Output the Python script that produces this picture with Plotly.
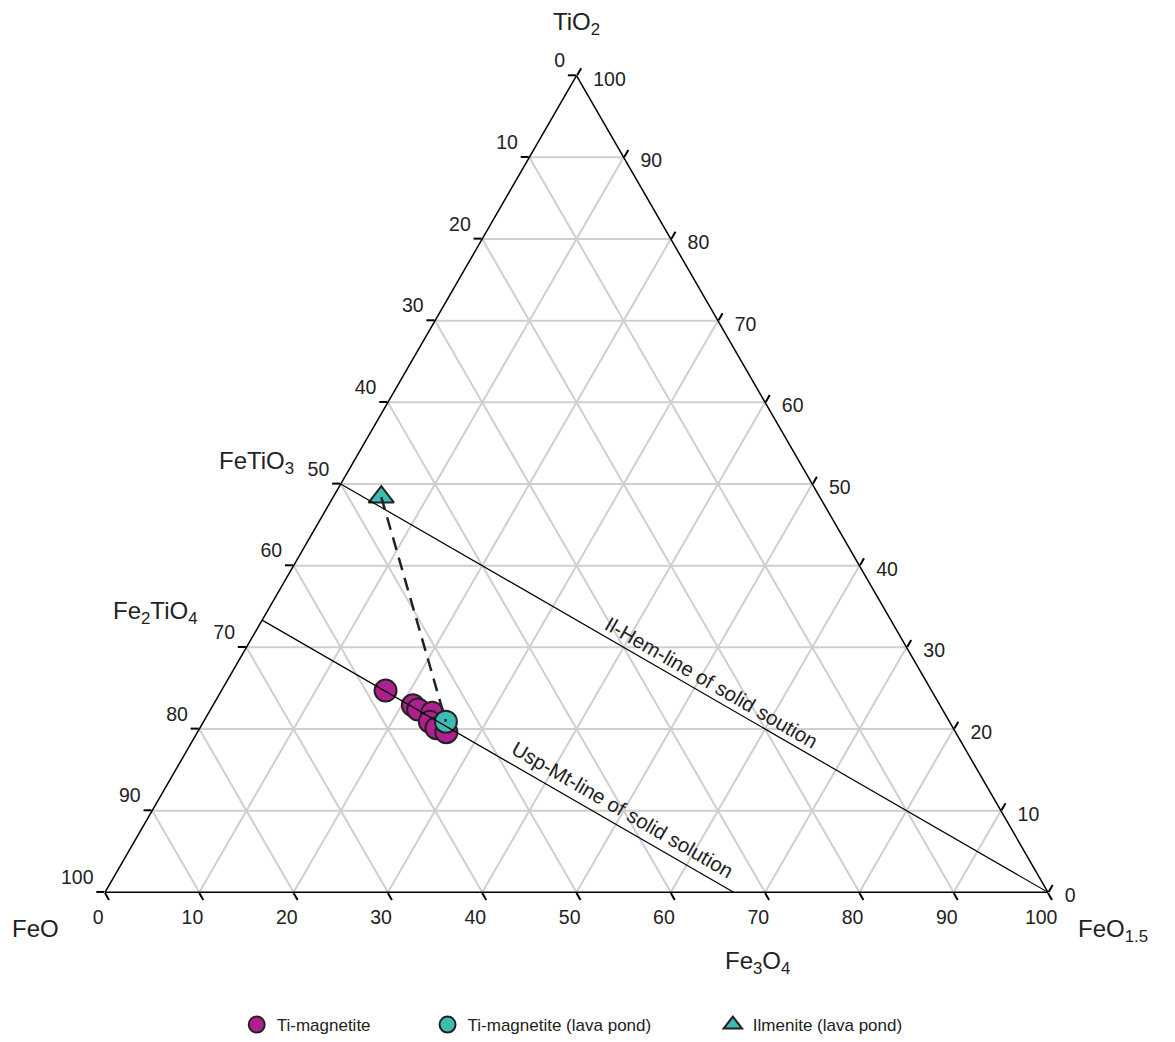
import plotly.graph_objects as go

# Data (TiO2 = a, FeO = b, FeO1.5 = c), in %
timag_TiO2 = [24.7, 22.9, 22.4, 22.0, 20.9, 20.1, 19.6]
timag_FeO = [57.9, 55.9, 55.6, 54.3, 55.1, 54.8, 54.0]
timag_FeO15 = [17.4, 21.2, 22.0, 23.7, 24.0, 25.1, 26.4]

pond_TiO2 = [20.9]
pond_FeO = [53.4]
pond_FeO15 = [25.7]

ilm_TiO2 = [48.4]
ilm_FeO = [46.5]
ilm_FeO15 = [5.1]

# Solid solution lines (end members)
ilhem_TiO2 = [50, 0]
ilhem_FeO = [50, 0]
ilhem_FeO15 = [0, 100]

uspmt_TiO2 = [100 / 3, 0]
uspmt_FeO = [200 / 3, 100 / 3]
uspmt_FeO15 = [0, 200 / 3]

tick_vals = list(range(0, 101, 10))
tick_labels = [str(100 - v) for v in tick_vals]

MAGENTA = "#B11F8E"
TEAL = "#3BBDB6"
FONT = "Liberation Sans, Arial, sans-serif"
NB = "&nbsp;"
THIN = "&#8201;"

fig = go.Figure()

fig.add_trace(go.Scatterternary(
    a=timag_TiO2, b=timag_FeO, c=timag_FeO15, mode="markers",
    name="Ti-magnetite" + NB * 11,
    marker=dict(symbol="circle", size=22, color=MAGENTA, line=dict(color="#222222", width=2)),
))
fig.add_trace(go.Scatterternary(
    a=pond_TiO2, b=pond_FeO, c=pond_FeO15, mode="markers",
    name="Ti-magnetite (lava pond)" + NB * 12,
    marker=dict(symbol="circle", size=22, color=TEAL, line=dict(color="#222222", width=2)),
))
fig.add_trace(go.Scatterternary(
    a=ilm_TiO2, b=ilm_FeO, c=ilm_FeO15, mode="markers",
    name="Ilmenite (lava pond)",
    marker=dict(symbol="triangle-up", size=22, color=TEAL, line=dict(color="#222222", width=2)),
))
fig.add_trace(go.Scatterternary(
    a=ilhem_TiO2, b=ilhem_FeO, c=ilhem_FeO15, mode="lines",
    line=dict(color="black", width=1.2), showlegend=False, hoverinfo="skip",
))
fig.add_trace(go.Scatterternary(
    a=uspmt_TiO2, b=uspmt_FeO, c=uspmt_FeO15, mode="lines",
    line=dict(color="black", width=1.2), showlegend=False, hoverinfo="skip",
))
fig.add_trace(go.Scatterternary(
    a=[ilm_TiO2[0], pond_TiO2[0]], b=[ilm_FeO[0], pond_FeO[0]], c=[ilm_FeO15[0], pond_FeO15[0]],
    mode="lines", line=dict(color="#222222", width=2.5, dash="13px,8px"),
    showlegend=False, hoverinfo="skip",
))


def axis(ticktext):
    return dict(
        tickvals=tick_vals, ticktext=ticktext, ticks="outside", ticklen=8,
        tickcolor="black", tickwidth=1.5, linecolor="black", linewidth=1.5,
        showgrid=True, gridcolor="#CFCFCF", gridwidth=1.5,
        tickfont=dict(size=19.5, color="#222222", family=FONT), title=dict(text=""),
    )


fig.update_layout(
    width=1175, height=1042,
    margin=dict(l=105, r=127, t=75, b=149),
    paper_bgcolor="white",
    font=dict(family=FONT, color="#222222"),
    ternary=dict(
        sum=100, bgcolor="white",
        aaxis=axis([t + "<br>" + NB for t in tick_labels]),
        baxis=axis([t + NB * 4 for t in tick_labels]),
        caxis=axis([NB + "<br>" + NB + THIN + t for t in tick_labels]),
    ),
    showlegend=True,
    legend=dict(orientation="h", xref="container", yref="container",
                x=0.487, xanchor="center", y=1 - 1025 / 1042, yanchor="middle",
                font=dict(size=17, family=FONT), itemsizing="trace", tracegroupgap=0),
)

ann = [
    ("TiO<sub>2</sub>", 576, 24, 24, 0),
    ("FeO", 35, 928, 24, 0),
    ("FeO<sub>1.5</sub>", 1113, 930, 24, 0),
    ("FeTiO<sub>3</sub>", 256, 462, 24, 0),
    ("Fe<sub>2</sub>TiO<sub>4</sub>", 155, 612, 24, 0),
    ("Fe<sub>3</sub>O<sub>4</sub>", 757, 962, 24, 0),
    ("Il-Hem-line of solid soution", 712, 682, 20.5, 30),
    ("Usp-Mt-line of solid solution", 623, 809, 20.5, 30),
]
for text, px, py, size, ang in ann:
    fig.add_annotation(
        text=text, xref="paper", yref="paper",
        x=(px - 105) / 943, y=(893 - py) / 818,
        showarrow=False, textangle=ang,
        font=dict(size=size, family=FONT, color="#222222"),
        xanchor="center", yanchor="middle",
    )

fig.write_html("out.html")
